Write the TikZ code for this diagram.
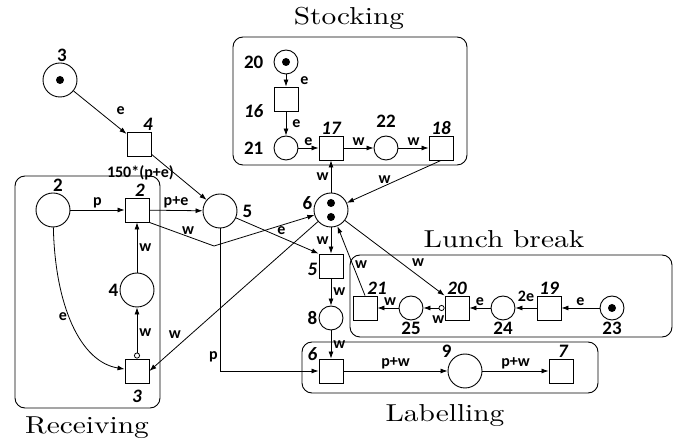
\documentclass[tikz,border=0pt]{standalone}
\usepackage{fontspec}
\newfontfamily\lblfont{Carlito}
\newfontfamily\titlefont{lmroman10-regular.otf}[FakeStretch=1.2]
\usetikzlibrary{arrows.meta,positioning}
\tikzstyle{place} = [circle, draw, line width=.9pt, minimum size=34pt, inner sep=0pt]
\tikzstyle{splace} = [circle, draw, line width=.9pt, minimum size=24pt, inner sep=0pt]
\tikzstyle{trans} = [rectangle, draw, line width=.9pt, minimum size=24pt, inner sep=0pt]
\tikzstyle{token} = [circle, fill=black, minimum size=8pt, inner sep=0pt]
\tikzstyle{flow} = [draw, line width=.8pt, -{Latex[length=7pt,width=5pt]}]
\tikzstyle{inhib} = [{Circle[open,length=6pt,width=6pt]}-{Latex[length=7pt,width=5pt]}]
\tikzstyle{group} = [draw, line width=.9pt, rounded corners=10pt]
\tikzstyle{title} = [font=\titlefont\fontsize{24.5}{26}\selectfont]
\tikzstyle{lbl} = [font=\lblfont\bfseries\fontsize{16}{16}\selectfont, inner sep=2pt]
\tikzstyle{num} = [font=\lblfont\bfseries\fontsize{19}{19}\selectfont, inner sep=1pt]
\tikzstyle{tnum} = [font=\lblfont\bfseries\itshape\fontsize{19}{19}\selectfont, inner sep=1pt]
\begin{document}
\begin{tikzpicture}[x=1pt,y=-1pt]
  \useasboundingbox (0,0) rectangle (678,443);

  % Receiving
  \draw [group] (15,176) rectangle (160,408);
  \node (rectitle) [title, anchor=base] at (87,434) {Receiving};
  \node (p2) [place, label={[num,xshift=5pt]above:2}] at (53,210) {};
  \node (t2) [trans, right of=p2, node distance=84pt, label={[tnum,xshift=3pt]above:2}] {};
  \node (p4) [place, below of=t2, node distance=80pt, label={[num]left:4}] {};
  \node (t3) [trans, below of=p4, node distance=81pt, label={[tnum,label distance=5pt]below:3}] {};

  \node (p3) [place, label={[num,xshift=2pt]above:3}] at (60,80) {};
  \node (p3tok) [token] at (p3) {};
  \node (t4) [trans, label={[tnum,xshift=9pt]above:4}] at (139,144) {};
  \node (p5) [place, label={[num,xshift=4pt]right:5}] at (220,211) {};
  \node (p6) [place, label={[num,yshift=7pt]left:6}] at (331,210) {};
  \node (p6tok1) [token] at ([yshift=7pt]p6.center) {};
  \node (p6tok2) [token] at ([yshift=-7pt]p6.center) {};
  \node (t5) [trans, below of=p6, node distance=56pt, label={[tnum,yshift=-3pt]left:5}] {};
  \node (p8) [splace, below of=t5, node distance=52pt, label={[num]left:8}] {};

  % Labelling
  \draw [group] (302,342) rectangle (598,393);
  \node (labtitle) [title, anchor=base] at (445,422) {Labelling};
  \node (t6) [trans, below of=p8, node distance=53pt, label={[tnum,yshift=-3pt]above left:6}] {};
  \node (p9) [place, right of=t6, node distance=134pt, label={[num]above left:9}] {};
  \node (t7) [trans, right of=p9, node distance=96pt, label={[tnum,xshift=2pt]above:7}] {};

  % Stocking
  \draw [group] (233,37) rectangle (467,165);
  \node (stotitle) [title, anchor=base] at (349,25) {Stocking};
  \node (t17) [trans, above of=p6, node distance=62pt, label={[tnum]above:17}] {};
  \node (p21) [splace, left of=t17, node distance=45pt, label={[num,label distance=9pt]left:21}] {};
  \node (t16) [trans, above of=p21, node distance=49pt, label={[tnum,label distance=9pt,yshift=-12pt]left:16}] {};
  \node (p20) [splace, above of=t16, node distance=37pt, label={[num,label distance=9pt]left:20}] {};
  \node (p20tok) [token] at (p20) {};
  \node (p22) [splace, right of=t17, node distance=55pt, label={[num,label distance=7pt]above:22}] {};
  \node (t18) [trans, right of=p22, node distance=55pt, label={[tnum]above:18}] {};

  % Lunch break
  \draw [group] (350,255) rectangle (672,337);
  \node (luntitle) [title, anchor=base] at (504,248) {Lunch break};
  \node (t21) [trans, label={[tnum,xshift=12pt]above:21}] at (365,308) {};
  \node (p25) [splace, right of=t21, node distance=46pt, label={[num]below:25}] {};
  \node (t20) [trans, right of=p25, node distance=46pt, label={[tnum]above:20}] {};
  \node (p24) [splace, right of=t20, node distance=46pt, label={[num]below:24}] {};
  \node (t19) [trans, right of=p24, node distance=46pt, label={[tnum]above:19}] {};
  \node (p23) [splace, right of=t19, node distance=63pt, label={[num]below:23}] {};
  \node (p23tok) [token] at (p23) {};

  % arcs
  \draw [flow] (p3) -- node [lbl, pos=.7, above right=5pt] {e} (t4);
  \draw [flow] (t4) -- node [lbl, pos=0, below=9pt, xshift=-11pt] {150*(p+e)} (p5);
  \draw [flow] (p2) -- node [lbl, above] {p} (t2);
  \draw [flow] (t2) -- node [lbl, above] {p+e} (p5);
  \coordinate (wbend) at (214,246);
  \draw [flow] (t2.south east) -- node [lbl, pos=.6, above] {w} (wbend) -- (p6);
  \draw [flow] (p4) -- node [lbl, right] {w} (t2);
  \draw [flow, inhib] (t3) -- node [lbl, right] {w} (p4);
  \draw [flow] (p2) .. controls (55,305) and (80,362) .. node [lbl, pos=.45, left] {e} (t3);
  \draw [flow] (p6) -- node [lbl, pos=.8, above left] {w} (t3.east);
  \draw [flow] (p5) |- node [lbl, pos=.45, left] {p} (t6);
  \draw [flow] (p5) -- node [lbl, pos=.55, above] {e} (t5.north west);
  \draw [flow] (p6) -- node [lbl, left] {w} (t5);
  \draw [flow] (t5) -- node [lbl, right] {w} (p8);
  \draw [flow] (p8) -- node [lbl, right] {w} (t6);
  \draw [flow] (t6) -- node [lbl, above] {p+w} (p9);
  \draw [flow] (p9) -- node [lbl, above] {p+w} (t7);

  \draw [flow] (p20) -- node [lbl, right=12pt] {e} (t16);
  \draw [flow] (t16) -- node [lbl, right=4pt] {e} (p21);
  \draw [flow] (p21) -- node [lbl, above] {e} (t17);
  \draw [flow] (t17) -- node [lbl, above] {w} (p22);
  \draw [flow] (p22) -- node [lbl, above] {w} (t18);
  \draw [flow] (p6) -- node [lbl, left] {w} (t17);
  \draw [flow] (t18.south) -- node [lbl, pos=.6, above] {w} (p6);

  \draw [flow] (p23) -- node [lbl, above] {e} (t19);
  \draw [flow] (t19) -- node [lbl, above=4pt] {2e} (p24);
  \draw [flow] (p24) -- node [lbl, above] {e} (t20);
  \draw [flow, inhib] (t20) -- node [lbl, pos=.3, below=5pt] {w} (p25);
  \draw [flow] (p25) -- node [lbl, pos=.4, above] {w} (t21);
  \draw [flow] (t21.north) -- node [lbl, pos=.45, right] {w} (p6);
  \draw [flow] (p6) -- node [lbl, pos=.65, above right] {w} (t20.north west);

\end{tikzpicture}
\end{document}
